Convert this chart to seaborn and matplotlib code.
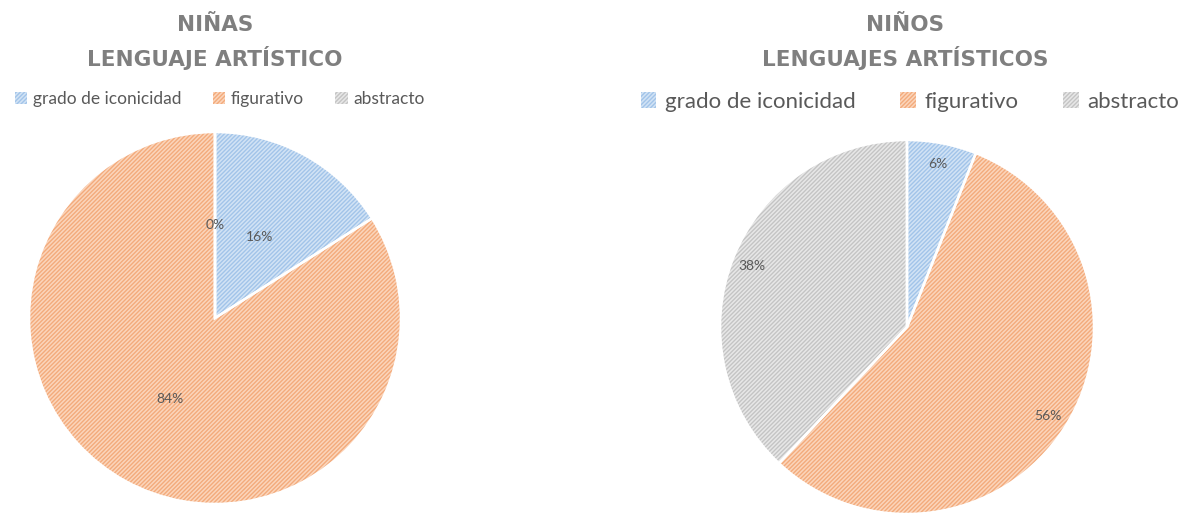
import matplotlib
matplotlib.use("Agg")
import matplotlib.pyplot as plt
from matplotlib.patches import Patch
import seaborn as sns

categories = ["grado de iconicidad", "figurativo", "abstracto"]
ninas_values = [16, 84, 0]
ninos_values = [6, 56, 38]
title_ninas = "NIÑAS\nLENGUAJE ARTÍSTICO"
title_ninos = "NIÑOS\nLENGUAJES ARTÍSTICOS"

sns.set_theme(style="white")
plt.rcParams["font.family"] = ["Lato", "DejaVu Sans"]
plt.rcParams["hatch.linewidth"] = 1.0

face_colors = ["#D2E3F5", "#FBD5BB", "#E7E7E7"]
hatch_colors = ["#A2C4E9", "#F3AB7C", "#C4C4C4"]
text_grey = "#7F7F7F"
label_grey = "#595959"
HATCH = "////////"

W, H = 1187, 518
fig = plt.figure(figsize=(W / 100, H / 100), dpi=100)


def draw_pie(rect, values, pctdist):
    ax = fig.add_axes(rect)
    wedges, texts, autotexts = ax.pie(
        values, startangle=90, counterclock=False, colors=face_colors,
        autopct="%1.0f%%", pctdistance=pctdist, radius=1,
        wedgeprops=dict(linewidth=0, hatch=HATCH),
        textprops=dict(color=label_grey, fontsize=10))
    for w, hc in zip(wedges, hatch_colors):
        w.set_edgecolor(hc)
        w.set_linewidth(0)
    ax.pie(values, startangle=90, counterclock=False, radius=1,
           colors=["none"] * len(values),
           wedgeprops=dict(linewidth=1.8, edgecolor="white", fill=False))
    for t in autotexts:
        t.set_zorder(10)
    ax.set_xlim(-1.0, 1.0)
    ax.set_ylim(-1.0, 1.0)
    ax.set_aspect("equal")
    ax.axis("off")
    return ax


draw_pie([29 / W, (H - 504) / H, 372 / W, 372 / H], ninas_values, 0.5)
draw_pie([720 / W, (H - 514) / H, 374 / W, 374 / H], ninos_values, 0.89)

title_font = ["DejaVu Sans"]
fig.text(215 / W, 1 - 42 / H, title_ninas, ha="center", va="center",
         fontsize=15.5, fontweight="bold", color=text_grey, linespacing=1.55,
         family=title_font)
fig.text(905 / W, 1 - 42 / H, title_ninos, ha="center", va="center",
         fontsize=15.5, fontweight="bold", color=text_grey, linespacing=1.55,
         family=title_font)

handles = [Patch(facecolor=fc, edgecolor=hc, hatch=HATCH, linewidth=0)
           for fc, hc in zip(face_colors, hatch_colors)]

fig.legend(handles, categories, loc="center", bbox_to_anchor=(220 / W, 1 - 99 / H),
           ncol=3, frameon=False, fontsize=12.5, handlelength=0.7, handleheight=0.7,
           handletextpad=0.35, columnspacing=1.8, labelcolor=label_grey)
fig.legend(handles, categories, loc="center", bbox_to_anchor=(910 / W, 1 - 102 / H),
           ncol=3, frameon=False, fontsize=16, handlelength=0.7, handleheight=0.7,
           handletextpad=0.4, columnspacing=2.0, labelcolor=label_grey)

fig.savefig("out.png", dpi=100, facecolor="white")
